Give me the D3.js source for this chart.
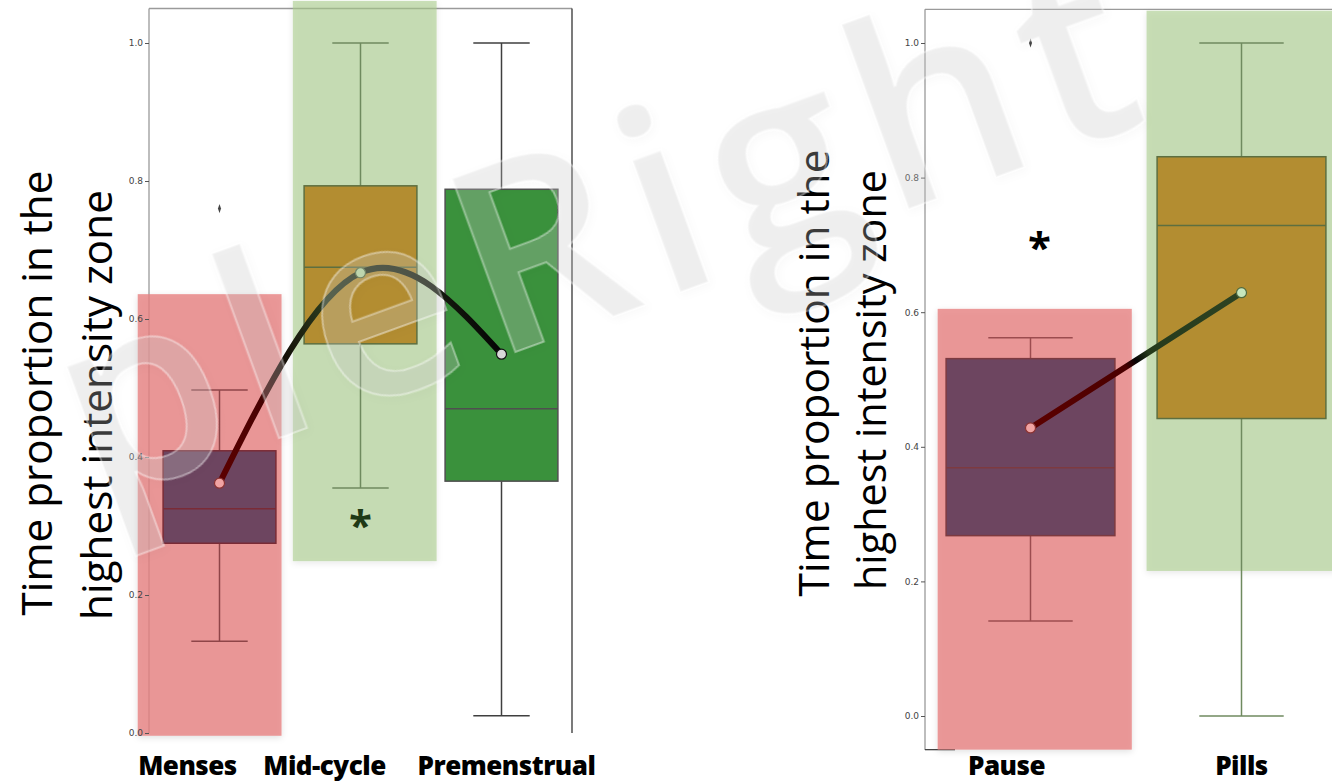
<!DOCTYPE html>
<html><head><meta charset="utf-8">
<script src="https://cdn.jsdelivr.net/npm/d3@7"></script>
<style>body{margin:0;background:#fff}svg{display:block}</style>
</head><body>
<svg id="c" width="1332" height="782"></svg>
<script>
// ---- data ----
const catsLeft = ["Menses", "Mid-cycle", "Premenstrual"];
const lowLeft = [0.133, 0.355, 0.025];
const q1Left = [0.275, 0.564, 0.365];
const medLeft = [0.325, 0.675, 0.470];
const q3Left = [0.409, 0.793, 0.788];
const highLeft = [0.497, 1.0, 1.0];
const meanLeft = [0.362, 0.667, 0.549];
const outLeft = [[0.76], [], []];

const catsRight = ["Pause", "Pills"];
const lowRight = [0.141, 0.0];
const q1Right = [0.268, 0.442];
const medRight = [0.369, 0.729];
const q3Right = [0.531, 0.831];
const highRight = [0.562, 1.0];
const meanRight = [0.428, 0.629];
const outRight = [[1.0], []];

const yTicks = [0.0, 0.2, 0.4, 0.6, 0.8, 1.0];
const titleLines = ["Time proportion in the", "highest intensity zone"];
const watermark = "pleRight";

// highlight bands: [category, yFrom, yTo, x offset start (band frac), x offset end]
const hlLeft = [["Menses", -0.004, 0.636, -0.58, 0.44, "pink"], ["Mid-cycle", 0.249, 1.061, -0.48, 0.54, "green"]];
const hlRight = [["Pause", -0.05, 0.605, -0.44, 0.48, "pink"], ["Pills", 0.2155, 1.048, -0.45, 0.52, "green"]];

// ---- styles ----
const styles = {
  "Menses":      {fill: "#6d4560", stroke: "#7a2b36", whisk: "#8e4548", dot: "#f0a3a3", dotStroke: "#8a3333"},
  "Mid-cycle":   {fill: "#b38d31", stroke: "#5d6f40", whisk: "#6f8a5f", dot: "#b9dba5", dotStroke: "#4f6a3f"},
  "Premenstrual":{fill: "#3a913c", stroke: "#4f4f4f", whisk: "#3f3f3f", dot: "#d8d8d8", dotStroke: "#111"},
  "Pause":       {fill: "#6d4560", stroke: "#7d3a40", whisk: "#9c4c4f", dot: "#f0a3a3", dotStroke: "#8a3333"},
  "Pills":       {fill: "#b38d31", stroke: "#5d6f40", whisk: "#6f8a5f", dot: "#c6e6bd", dotStroke: "#4f6a3f"}
};
const hlColor = {pink: {c: "#e78181", a: 0.8}, green: {c: "#a8cb8a", a: 0.6}};

const svg = d3.select("#c");
const defs = svg.append("defs");
const shadow = defs.append("filter").attr("id", "sh").attr("x", "-10%").attr("y", "-10%").attr("width", "120%").attr("height", "120%");
shadow.append("feDropShadow").attr("dx", 0).attr("dy", 2).attr("stdDeviation", 3).attr("flood-color", "#000").attr("flood-opacity", 0.15);
const wsh = defs.append("filter").attr("id", "wsh").attr("x", "-5%").attr("y", "-5%").attr("width", "110%").attr("height", "110%");
wsh.append("feDropShadow").attr("dx", 1).attr("dy", 3).attr("stdDeviation", 4).attr("flood-color", "#000").attr("flood-opacity", 0.07);

function fitText(sel, target) {
  const fs = +sel.attr("font-size");
  const len = sel.node().getComputedTextLength();
  if (len > 0) sel.attr("font-size", (fs * target / len).toFixed(2));
}

function panel(cfg) {
  const g = svg.append("g");
  const x = d3.scaleBand().domain(cfg.cats).range(cfg.xr).paddingInner(0).paddingOuter(0);
  const y = d3.scaleLinear().domain([-0.05, 1.05]).range(cfg.yr);
  const bw = x.bandwidth();
  const cx = c => x(c) + bw / 2;
  const boxW = bw * 0.8;

  // spines
  const fr = g.append("g").attr("stroke", "#9a9a9a").attr("stroke-width", 1.3).attr("fill", "none");
  fr.append("line").attr("x1", cfg.xr[0]).attr("x2", cfg.frameRight).attr("y1", y(1.05)).attr("y2", y(1.05));
  fr.append("line").attr("x1", cfg.xr[0]).attr("x2", cfg.xr[0]).attr("y1", y(1.05)).attr("y2", cfg.frameBottom);
  if (cfg.rightSpine) fr.append("line").attr("x1", cfg.frameRight).attr("x2", cfg.frameRight).attr("y1", y(1.05)).attr("y2", cfg.frameBottom).attr("stroke", "#333");
  if (cfg.bottomSpine) fr.append("line").attr("x1", cfg.xr[0]).attr("x2", cfg.xr[0] + 30).attr("y1", y(-0.05)).attr("y2", y(-0.05)).attr("stroke", "#444");

  // outliers
  cfg.cats.forEach((c, i) => {
    cfg.out[i].forEach(v => {
      g.append("path").attr("d", d3.symbol(d3.symbolDiamond, 14)()).attr("transform", `translate(${cx(c)},${y(v)}) scale(0.75,1.3)`).attr("fill", "#444");
    });
  });

  // highlight overlays
  cfg.hl.forEach(h => {
    const c = h[0], col = hlColor[h[5]];
    g.append("rect").attr("x", cx(c) + h[3] * bw).attr("width", (h[4] - h[3]) * bw)
      .attr("y", y(h[2])).attr("height", y(h[1]) - y(h[2]))
      .attr("fill", col.c).attr("fill-opacity", col.a).attr("filter", "url(#sh)");
  });

  // y axis (above overlays)
  const ax = d3.axisLeft(y).tickValues(yTicks).tickFormat(d3.format(".1f")).tickSize(4).tickPadding(2);
  const axg = g.append("g").attr("transform", `translate(${cfg.xr[0]},0)`).call(ax);
  axg.select(".domain").remove();
  axg.selectAll("line").attr("stroke", "#555");
  axg.selectAll("text").attr("font-family", "DejaVu Sans").attr("font-size", 9).attr("fill", "#444");

  // boxes
  cfg.cats.forEach((c, i) => {
    const s = styles[c];
    const bg = g.append("g");
    bg.append("line").attr("x1", cx(c)).attr("x2", cx(c)).attr("y1", y(cfg.high[i])).attr("y2", y(cfg.q3[i])).attr("stroke", s.whisk).attr("stroke-width", 1.5);
    bg.append("line").attr("x1", cx(c)).attr("x2", cx(c)).attr("y1", y(cfg.q1[i])).attr("y2", y(cfg.low[i])).attr("stroke", s.whisk).attr("stroke-width", 1.5);
    [cfg.high[i], cfg.low[i]].forEach(v => {
      bg.append("line").attr("x1", cx(c) - boxW / 4).attr("x2", cx(c) + boxW / 4).attr("y1", y(v)).attr("y2", y(v)).attr("stroke", s.whisk).attr("stroke-width", 1.5);
    });
    bg.append("rect").attr("x", cx(c) - boxW / 2).attr("width", boxW).attr("y", y(cfg.q3[i])).attr("height", y(cfg.q1[i]) - y(cfg.q3[i]))
      .attr("fill", s.fill).attr("stroke", s.stroke).attr("stroke-width", 1.5);
    bg.append("line").attr("x1", cx(c) - boxW / 2).attr("x2", cx(c) + boxW / 2).attr("y1", y(cfg.med[i])).attr("y2", y(cfg.med[i])).attr("stroke", s.stroke).attr("stroke-width", 1.5);
  });

  // mean line
  const pts = cfg.cats.map((c, i) => [cx(c), y(cfg.mean[i])]);
  const gid = cfg.id + "grad";
  const grad = defs.append("linearGradient").attr("id", gid).attr("gradientUnits", "userSpaceOnUse")
    .attr("x1", pts[0][0]).attr("y1", pts[0][1]).attr("x2", pts[pts.length - 1][0]).attr("y2", pts[pts.length - 1][1]);
  cfg.stops.forEach(s => grad.append("stop").attr("offset", s[0]).attr("stop-color", s[1]));
  g.append("path").attr("d", d3.line().curve(cfg.curve)(pts)).attr("fill", "none")
    .attr("stroke", `url(#${gid})`).attr("stroke-width", 6).attr("stroke-linecap", "round");
  cfg.cats.forEach((c, i) => {
    const s = styles[c];
    g.append("circle").attr("cx", cx(c)).attr("cy", y(cfg.mean[i])).attr("r", 5).attr("fill", s.dot).attr("stroke", s.dotStroke).attr("stroke-width", 1.2);
  });

  // significance star
  g.append("text").attr("x", cx(cfg.star[0]) + cfg.star[3]).attr("y", y(cfg.star[1])).attr("text-anchor", "middle")
    .attr("font-family", "Open Sans").attr("font-weight", "bold").attr("font-size", 42).attr("fill", cfg.star[2]).text("*");

  // category labels
  cfg.cats.forEach((c, i) => {
    g.append("text").attr("x", cx(c) + cfg.labelDx[i]).attr("y", 775).attr("text-anchor", "middle")
      .attr("font-family", "Open Sans").attr("font-weight", 800).attr("font-size", 26).attr("letter-spacing", -0.5)
      .attr("fill", "#000").text(c);
  });

  // y title
  titleLines.forEach((t, k) => {
    const tt = g.append("text").attr("transform", `translate(${cfg.titleX[k]},${cfg.titleY[k]}) rotate(-90)`)
      .attr("text-anchor", "middle").attr("dominant-baseline", "central")
      .attr("font-family", "Open Sans").attr("font-size", 36).attr("fill", "#000").text(t);
    fitText(tt, cfg.titleLen[k]);
  });
}

panel({
  id: "L", cats: catsLeft, xr: [149, 572], yr: [767.5, 8.5], frameRight: 572, frameBottom: 733, rightSpine: true, bottomSpine: false,
  low: lowLeft, q1: q1Left, med: medLeft, q3: q3Left, high: highLeft, mean: meanLeft, out: outLeft, hl: hlLeft,
  curve: d3.curveNatural,
  stops: [[0, "#5c0000"], [0.22, "#4a0202"], [0.36, "#141008"], [0.55, "#2b3b1e"], [0.85, "#1c2412"], [1, "#050505"]],
  star: ["Mid-cycle", 0.28, "#1f3a16", 0], labelDx: [-32, -36, 5],
  titleX: [35, 95], titleY: [393, 405], titleLen: [445, 430]
});
panel({
  id: "R", cats: catsRight, xr: [925, 1347], yr: [749.65, 9.35], frameRight: 1347, frameBottom: 750, rightSpine: false, bottomSpine: true,
  low: lowRight, q1: q1Right, med: medRight, q3: q3Right, high: highRight, mean: meanRight, out: outRight, hl: hlRight,
  curve: d3.curveLinear,
  stops: [[0, "#5c0000"], [0.45, "#4a0000"], [0.5, "#050505"], [0.56, "#263a1c"], [1, "#2d4322"]],
  star: ["Pause", 0.675, "#000", 9], labelDx: [-24, 0],
  titleX: [812, 870], titleY: [373, 380], titleLen: [447, 420]
});

// watermark
const wm = svg.append("g").attr("transform", "translate(95,505) rotate(-20)").attr("pointer-events", "none");
wm.append("text").attr("text-anchor", "start").attr("font-family", "Open Sans").attr("font-weight", 600).attr("font-size", 258)
  .attr("letter-spacing", 14)
  .attr("fill", "#c8c8c8").attr("fill-opacity", 0.28).attr("stroke", "#ffffff").attr("stroke-opacity", 0.4).attr("stroke-width", 2)
  .attr("filter", "url(#wsh)")
  .text(watermark);
</script>
</body></html>
